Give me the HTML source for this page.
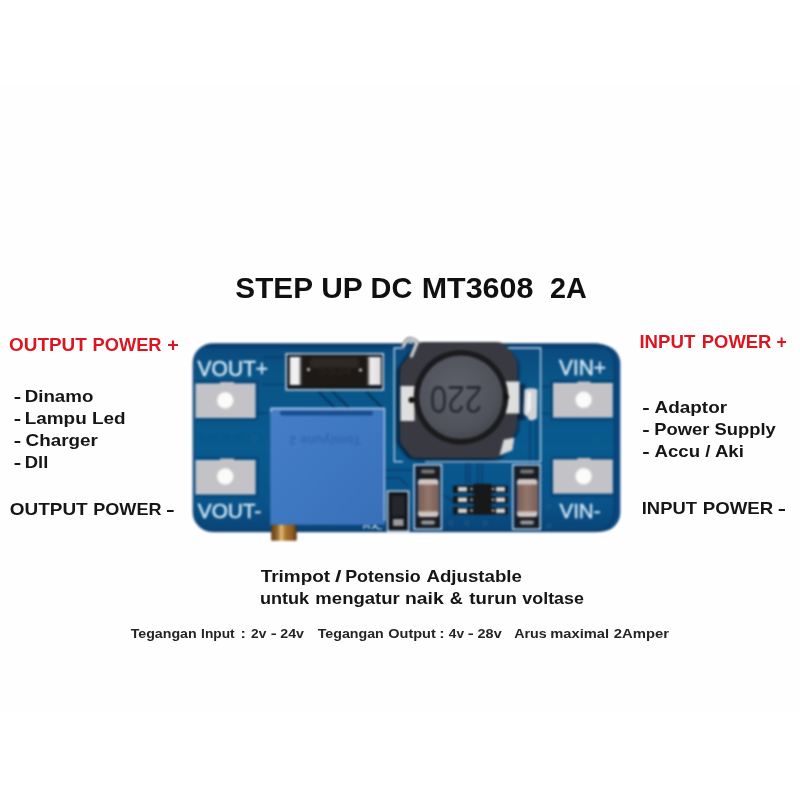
<!DOCTYPE html>
<html><head><meta charset="utf-8">
<style>
html,body{margin:0;padding:0;background:#fff;}
body{width:800px;height:800px;overflow:hidden;position:relative;font-family:"Liberation Sans",sans-serif;}
svg{position:absolute;left:0;top:0;display:block}
text{font-family:"Liberation Sans",sans-serif;}
</style></head><body>
<svg width="800" height="800" viewBox="0 0 800 800">
<defs>
<linearGradient id="pcb" x1="0" y1="0" x2="0" y2="1">
<stop offset="0" stop-color="#0a4a7e"/><stop offset="0.2" stop-color="#0a5688"/><stop offset="0.55" stop-color="#085a8f"/><stop offset="0.85" stop-color="#09538a"/><stop offset="1" stop-color="#094476"/>
</linearGradient>
<linearGradient id="trim" x1="0" y1="0" x2="1" y2="1">
<stop offset="0" stop-color="#467fc8"/><stop offset="0.5" stop-color="#3e78c0"/><stop offset="1" stop-color="#3970b9"/>
</linearGradient>
<radialGradient id="core" cx="0.45" cy="0.4" r="0.65">
<stop offset="0" stop-color="#5e606a"/><stop offset="0.75" stop-color="#50525b"/><stop offset="1" stop-color="#42444c"/>
</radialGradient>
<linearGradient id="brass" x1="0" y1="0" x2="1" y2="0">
<stop offset="0" stop-color="#5e3a18"/><stop offset="0.25" stop-color="#9a6a2c"/><stop offset="0.4" stop-color="#e2be7a"/><stop offset="0.55" stop-color="#a87630"/><stop offset="0.85" stop-color="#8a5a22"/><stop offset="1" stop-color="#4e2e12"/>
</linearGradient>
<linearGradient id="capg" x1="0" y1="0" x2="1" y2="0">
<stop offset="0" stop-color="#7b5e54"/><stop offset="0.5" stop-color="#94776b"/><stop offset="1" stop-color="#7b5e54"/>
</linearGradient>
<linearGradient id="dio" x1="0" y1="0" x2="1" y2="0"><stop offset="0" stop-color="#ededed"/><stop offset="0.1" stop-color="#f4f4f4"/><stop offset="0.17" stop-color="#3a3634"/><stop offset="0.8" stop-color="#3a3634"/><stop offset="0.87" stop-color="#f0f0f0"/><stop offset="1" stop-color="#dcdcdc"/></linearGradient>
<filter id="soft" color-interpolation-filters="sRGB" x="-5%" y="-5%" width="110%" height="110%"><feGaussianBlur stdDeviation="0.7"/></filter>
<filter id="soft2" color-interpolation-filters="sRGB" x="-5%" y="-5%" width="110%" height="110%"><feGaussianBlur stdDeviation="0.85"/></filter>
<filter id="soft3" color-interpolation-filters="sRGB" x="-20%" y="-20%" width="140%" height="140%"><feGaussianBlur stdDeviation="1.2"/></filter>
<clipPath id="bclip"><rect x="193.500" y="344" width="421" height="187.300" rx="20" ry="19"/></clipPath>
</defs>
<rect width="800" height="800" fill="#fff"/>
<rect x="0" y="86" width="800" height="627" fill="#fefefe"/>
<g id="labels" filter="url(#soft)" stroke-linejoin="round">
<text x="235.36" y="298.30" font-size="29.4" font-weight="bold" fill="#101010" textLength="77.62" lengthAdjust="spacingAndGlyphs">STEP</text>
<text x="321.22" y="298.30" font-size="29.4" font-weight="bold" fill="#101010" textLength="41.53" lengthAdjust="spacingAndGlyphs">UP</text>
<text x="370.53" y="298.30" font-size="29.4" font-weight="bold" fill="#101010" textLength="41.76" lengthAdjust="spacingAndGlyphs">DC</text>
<text x="421.68" y="298.30" font-size="29.4" font-weight="bold" fill="#101010" textLength="111.75" lengthAdjust="spacingAndGlyphs">MT3608</text>
<text x="550.02" y="298.30" font-size="29.4" font-weight="bold" fill="#101010" textLength="36.76" lengthAdjust="spacingAndGlyphs">2A</text>
<text x="9.09" y="351.30" font-size="17.5" font-weight="bold" fill="#dc1620" textLength="77.71" lengthAdjust="spacingAndGlyphs">OUTPUT</text>
<text x="92.52" y="351.30" font-size="17.5" font-weight="bold" fill="#dc1620" textLength="69.05" lengthAdjust="spacingAndGlyphs">POWER</text>
<text x="167.15" y="351.30" font-size="17.5" font-weight="bold" fill="#dc1620" textLength="11.56" lengthAdjust="spacingAndGlyphs">+</text>
<text x="13.74" y="402.00" font-size="16.2" font-weight="bold" fill="#161616" textLength="7.42" lengthAdjust="spacingAndGlyphs">-</text>
<text x="24.69" y="402.00" font-size="16.2" font-weight="bold" fill="#161616" textLength="68.64" lengthAdjust="spacingAndGlyphs">Dinamo</text>
<text x="13.74" y="424.20" font-size="16.2" font-weight="bold" fill="#161616" textLength="7.42" lengthAdjust="spacingAndGlyphs">-</text>
<text x="24.68" y="424.20" font-size="16.2" font-weight="bold" fill="#161616" textLength="100.95" lengthAdjust="spacingAndGlyphs">Lampu Led</text>
<text x="13.74" y="445.80" font-size="16.2" font-weight="bold" fill="#161616" textLength="7.42" lengthAdjust="spacingAndGlyphs">-</text>
<text x="25.57" y="445.80" font-size="16.2" font-weight="bold" fill="#161616" textLength="72.32" lengthAdjust="spacingAndGlyphs">Charger</text>
<text x="13.74" y="467.70" font-size="16.2" font-weight="bold" fill="#161616" textLength="7.42" lengthAdjust="spacingAndGlyphs">-</text>
<text x="24.71" y="467.70" font-size="16.2" font-weight="bold" fill="#161616" textLength="23.55" lengthAdjust="spacingAndGlyphs">Dll</text>
<text x="9.78" y="515.00" font-size="16.5" font-weight="bold" fill="#161616" textLength="77.95" lengthAdjust="spacingAndGlyphs">OUTPUT</text>
<text x="93.27" y="515.00" font-size="16.5" font-weight="bold" fill="#161616" textLength="68.24" lengthAdjust="spacingAndGlyphs">POWER</text>
<text x="166.01" y="515.00" font-size="16.5" font-weight="bold" fill="#161616" textLength="8.73" lengthAdjust="spacingAndGlyphs">-</text>
<text x="639.40" y="348.20" font-size="17.5" font-weight="bold" fill="#dc1620" textLength="55.86" lengthAdjust="spacingAndGlyphs">INPUT</text>
<text x="701.82" y="348.20" font-size="17.5" font-weight="bold" fill="#dc1620" textLength="69.56" lengthAdjust="spacingAndGlyphs">POWER</text>
<text x="776.45" y="348.20" font-size="17.5" font-weight="bold" fill="#dc1620" textLength="10.28" lengthAdjust="spacingAndGlyphs">+</text>
<text x="642.34" y="413.00" font-size="16.2" font-weight="bold" fill="#161616" textLength="7.42" lengthAdjust="spacingAndGlyphs">-</text>
<text x="654.56" y="413.00" font-size="16.2" font-weight="bold" fill="#161616" textLength="72.50" lengthAdjust="spacingAndGlyphs">Adaptor</text>
<text x="642.34" y="435.00" font-size="16.2" font-weight="bold" fill="#161616" textLength="7.42" lengthAdjust="spacingAndGlyphs">-</text>
<text x="654.22" y="435.00" font-size="16.2" font-weight="bold" fill="#161616" textLength="121.53" lengthAdjust="spacingAndGlyphs">Power Supply</text>
<text x="642.34" y="457.00" font-size="16.2" font-weight="bold" fill="#161616" textLength="7.42" lengthAdjust="spacingAndGlyphs">-</text>
<text x="654.57" y="457.00" font-size="16.2" font-weight="bold" fill="#161616" textLength="89.33" lengthAdjust="spacingAndGlyphs">Accu / Aki</text>
<text x="641.75" y="514.00" font-size="16.6" font-weight="bold" fill="#161616" textLength="55.13" lengthAdjust="spacingAndGlyphs">INPUT</text>
<text x="702.73" y="514.00" font-size="16.6" font-weight="bold" fill="#161616" textLength="70.39" lengthAdjust="spacingAndGlyphs">POWER</text>
<text x="777.66" y="514.00" font-size="16.6" font-weight="bold" fill="#161616" textLength="8.27" lengthAdjust="spacingAndGlyphs">-</text>
<text x="260.66" y="581.70" font-size="16.7" font-weight="bold" fill="#161616" textLength="69.48" lengthAdjust="spacingAndGlyphs">Trimpot</text>
<text x="335.02" y="581.70" font-size="16.7" font-weight="bold" fill="#161616" textLength="6.55" lengthAdjust="spacingAndGlyphs">/</text>
<text x="345.19" y="581.70" font-size="16.7" font-weight="bold" fill="#161616" textLength="75.46" lengthAdjust="spacingAndGlyphs">Potensio</text>
<text x="426.48" y="581.70" font-size="16.7" font-weight="bold" fill="#161616" textLength="95.46" lengthAdjust="spacingAndGlyphs">Adjustable</text>
<text x="259.91" y="603.70" font-size="16.7" font-weight="bold" fill="#161616" textLength="49.29" lengthAdjust="spacingAndGlyphs">untuk</text>
<text x="315.35" y="603.70" font-size="16.7" font-weight="bold" fill="#161616" textLength="84.43" lengthAdjust="spacingAndGlyphs">mengatur</text>
<text x="404.99" y="603.70" font-size="16.7" font-weight="bold" fill="#161616" textLength="38.78" lengthAdjust="spacingAndGlyphs">naik</text>
<text x="449.68" y="603.70" font-size="16.7" font-weight="bold" fill="#161616" textLength="13.07" lengthAdjust="spacingAndGlyphs">&amp;</text>
<text x="469.32" y="603.70" font-size="16.7" font-weight="bold" fill="#161616" textLength="47.57" lengthAdjust="spacingAndGlyphs">turun</text>
<text x="522.37" y="603.70" font-size="16.7" font-weight="bold" fill="#161616" textLength="61.52" lengthAdjust="spacingAndGlyphs">voltase</text>
<text x="130.66" y="637.80" font-size="12.9" font-weight="bold" fill="#242424" textLength="66.04" lengthAdjust="spacingAndGlyphs">Tegangan</text>
<text x="201.07" y="637.80" font-size="12.9" font-weight="bold" fill="#242424" textLength="33.56" lengthAdjust="spacingAndGlyphs">Input</text>
<text x="240.63" y="637.80" font-size="12.9" font-weight="bold" fill="#242424" textLength="5.39" lengthAdjust="spacingAndGlyphs">:</text>
<text x="251.10" y="637.80" font-size="12.9" font-weight="bold" fill="#242424" textLength="15.28" lengthAdjust="spacingAndGlyphs">2v</text>
<text x="270.81" y="637.80" font-size="12.9" font-weight="bold" fill="#242424" textLength="5.94" lengthAdjust="spacingAndGlyphs">-</text>
<text x="280.29" y="637.80" font-size="12.9" font-weight="bold" fill="#242424" textLength="23.69" lengthAdjust="spacingAndGlyphs">24v</text>
<text x="317.66" y="637.80" font-size="12.9" font-weight="bold" fill="#242424" textLength="66.14" lengthAdjust="spacingAndGlyphs">Tegangan</text>
<text x="388.24" y="637.80" font-size="12.9" font-weight="bold" fill="#242424" textLength="47.57" lengthAdjust="spacingAndGlyphs">Output</text>
<text x="439.33" y="637.80" font-size="12.9" font-weight="bold" fill="#242424" textLength="5.39" lengthAdjust="spacingAndGlyphs">:</text>
<text x="448.87" y="637.80" font-size="12.9" font-weight="bold" fill="#242424" textLength="15.21" lengthAdjust="spacingAndGlyphs">4v</text>
<text x="467.81" y="637.80" font-size="12.9" font-weight="bold" fill="#242424" textLength="5.94" lengthAdjust="spacingAndGlyphs">-</text>
<text x="477.58" y="637.80" font-size="12.9" font-weight="bold" fill="#242424" textLength="24.10" lengthAdjust="spacingAndGlyphs">28v</text>
<text x="514.18" y="637.80" font-size="12.9" font-weight="bold" fill="#242424" textLength="32.56" lengthAdjust="spacingAndGlyphs">Arus</text>
<text x="550.30" y="637.80" font-size="12.9" font-weight="bold" fill="#242424" textLength="58.73" lengthAdjust="spacingAndGlyphs">maximal</text>
<text x="613.87" y="637.80" font-size="12.9" font-weight="bold" fill="#242424" textLength="55.15" lengthAdjust="spacingAndGlyphs">2Amper</text>
</g>
<!-- BOARD -->
<g id="board" filter="url(#soft2)">
<!-- board edge wall -->
<rect x="194" y="344.500" width="426.300" height="187.300" rx="20" ry="19" fill="#0a4680"/>
<!-- board face -->
<rect x="193.500" y="344" width="421" height="187.300" rx="20" ry="19" fill="url(#pcb)" stroke="#0a3c6e" stroke-width="2" stroke-opacity="0.75"/>
<path d="M205 346.500 H604" stroke="#0a3a6c" stroke-width="3.5" opacity="0.7" fill="none"/>
<path d="M196 437 H250" stroke="#0b4c82" stroke-width="3" stroke-dasharray="8 5" opacity="0.3" fill="none"/>
<g clip-path="url(#bclip)">
<!-- traces (darker lines) -->
<g stroke="#0a3b6c" stroke-width="1.6" fill="none" opacity="0.85">
<path d="M318.500 391.500 L336 409 M332.500 391.500 L351 410 M366 391.500 L384 409.500" stroke-width="2.4" stroke="#09305c"/>
<path d="M262 357.500 H286 M262 384.500 H286 M255 413 H268"/>
<path d="M196 381.5 H257.5 V419.5 H196 M196 458 H257.5 V496 H196"/>
<path d="M551.5 381 H615 M551.5 381 V419.5 H615 M551.5 458 V496 H615 M551.5 458 H615"/>
<path d="M541 386.5 H552 M541 413.5 H552"/>
<path d="M466 461 V484 M469.5 461 V484 M478 461 V484 M482 461 V484 M530 420 V465 M536 420 V465"/>
<path d="M441.5 495 Q448 496 453 503"/>
<path d="M385 470 H412 M385 478 H400 L408 486"/>
</g>
<!-- vias -->
<g fill="#0a3560" stroke="#3577ad" stroke-width="0.9" opacity="0.8">
<circle cx="254" cy="438.5" r="1.8"/><circle cx="597.5" cy="437.5" r="1.8"/>
<circle cx="451" cy="523" r="2"/><circle cx="467" cy="523" r="2"/><circle cx="485" cy="523" r="2"/>
<circle cx="549" cy="507" r="1.8"/><circle cx="549" cy="526" r="1.8"/>
</g>
</g>
<!-- pads -->
<g fill="#c3c3c7">
<path d="M195.500 383.5 H220 V382 H234 V383.500 H255.500 V418 H195.500 Z"/>
<path d="M195.500 460 H220 V458.500 H234 V460 H255.500 V494.500 H195.500 Z"/>
<path d="M553 383 H577.500 V381.500 H590.500 V383 H612.800 V417.500 H553 Z"/>
<path d="M553 459.500 H577.500 V458 H590.500 V459.500 H612.800 V493.500 H553 Z"/>
</g>
<g fill="#fbfbf9" stroke="#d9d9d9" stroke-width="1">
<circle cx="225.2" cy="400.3" r="8.3"/><circle cx="225.2" cy="476.5" r="8.3"/>
<circle cx="583.6" cy="399.8" r="8.3"/><circle cx="583.6" cy="476.3" r="8.3"/>
</g>
<!-- silk labels -->
<g fill="#d6e9f6" stroke="#d6e9f6" stroke-width="0.45" font-size="21.6">
<text x="197.6" y="375.6" textLength="70.500" lengthAdjust="spacingAndGlyphs">VOUT+</text>
<text font-size="21" x="197.8" y="518" textLength="63.500" lengthAdjust="spacingAndGlyphs">VOUT-</text>
<text x="559" y="375" textLength="47" lengthAdjust="spacingAndGlyphs">VIN+</text>
<text font-size="21" x="559.5" y="518" textLength="41" lengthAdjust="spacingAndGlyphs">VIN-</text>
</g>
<!-- diode -->
<rect x="286.2" y="353.8" width="97" height="36" fill="#141a22" stroke="#cfe0f0" stroke-width="1.5"/>
<rect x="289.800" y="357" width="91" height="28" fill="url(#dio)"/>
<rect x="300.500" y="355.500" width="68" height="31.500" rx="3" fill="#1d1916" filter="url(#soft3)"/><rect x="310" y="358" width="49" height="10" rx="3" fill="#2e2925" filter="url(#soft3)"/>
<circle cx="308.5" cy="369.5" r="1.5" fill="#ddd"/><circle cx="360.500" cy="370" r="1.5" fill="#ddd"/>
<text x="335" y="375" font-size="13" fill="#2a2420" text-anchor="middle" font-weight="bold">SS34</text>
<!-- trimpot -->
<rect x="270.300" y="407.800" width="114.500" height="117" fill="url(#trim)"/>
<path d="M271 412 V408.500 H384.500 V521" fill="none" stroke="#bcd2ee" stroke-width="1.3"/>
<rect x="280" y="411" width="93" height="4.500" rx="2" fill="#184a8c" opacity="0.95"/>
<text x="325" y="444" font-size="13" fill="#3468b0" text-anchor="middle" transform="rotate(180 325 440)" font-weight="bold" textLength="72" lengthAdjust="spacingAndGlyphs">Tomiyune 2</text>
<path d="M364 529 V526 H369 V529 M372 529 L375 525.500 L378 529 H382" fill="none" stroke="#dce8f4" stroke-width="1.2"/>
<rect x="271.200" y="524.700" width="25.500" height="16" rx="1.5" fill="url(#brass)"/>
<!-- inductor -->
<path d="M403 461.700 H394.300 V348 H404 M500 348 H540.600 V461.700 H425" fill="none" stroke="#c4d8ec" stroke-width="1.3"/>
<rect x="517" y="384" width="8" height="36" fill="#0a2748" filter="url(#soft3)"/><path d="M524.500 389.500 Q531 387 537.500 389.500 L537 418 Q533 421.500 529 420 L527 416 Q524 416 523.500 412 Z" fill="#d0d3d8"/><path d="M527.500 392 L531 392 L530.500 410 L526.500 415 Z" fill="#f4f4f4"/>
<path d="M423 342 L497 342 Q502 342 505 345 L515 357 Q517 360 517 364 L517 425 Q517 430 514 434 L502 453 Q499 458 493 458 L417 458 Q412 458 409 454 L402 445 Q400 442 400 438 L400 372 Q400 368 402 365 L416 346 Q419 342 423 342 Z" fill="#06172c" opacity="0.75" filter="url(#soft3)" transform="translate(-3.5 1.5)"/>
<path d="M423 342 L497 342 Q502 342 505 345 L515 357 Q517 360 517 364 L517 425 Q517 430 514 434 L502 453 Q499 458 493 458 L417 458 Q412 458 409 454 L402 445 Q400 442 400 438 L400 372 Q400 368 402 365 L416 346 Q419 342 423 342 Z" fill="#06172c" opacity="0.55" filter="url(#soft3)" transform="translate(2.5 2.5)"/>
<path d="M423 342 L497 342 Q502 342 505 345 L515 357 Q517 360 517 364 L517 425 Q517 430 514 434 L502 453 Q499 458 493 458 L417 458 Q412 458 409 454 L402 445 Q400 442 400 438 L400 372 Q400 368 402 365 L416 346 Q419 342 423 342 Z" fill="#393a41"/>
<rect x="400.500" y="386" width="14" height="35" fill="#dedede"/>
<rect x="505.500" y="381.500" width="14" height="32" fill="#dedede"/>
<path d="M500 455 L504 440 L514 438 L512 450 Z" fill="#d8d8d8" stroke="#bdbdbd" stroke-width="1"/>
<path d="M403.500 346 Q409 334 417 343 L411.500 356" fill="none" stroke="#5a5f66" stroke-width="4.5" stroke-linecap="round"/><path d="M403.500 346 Q409 334 417 343 L411.500 356" fill="none" stroke="#d4d4d4" stroke-width="2.800" stroke-linecap="round"/>
<circle cx="461" cy="397.300" r="47.300" fill="#1b1b1d"/>
<circle cx="461" cy="397.300" r="41.800" fill="url(#core)"/>
<circle cx="411.500" cy="400" r="3" fill="#111"/><circle cx="506" cy="397" r="3" fill="#111"/>
<text x="456" y="410.300" font-size="38" fill="#2a2d35" text-anchor="middle" transform="rotate(180 456 398)" textLength="52.500" lengthAdjust="spacingAndGlyphs" font-family="Liberation Mono, monospace">220</text>
<!-- caps -->
<rect x="414.200" y="464.800" width="27.300" height="64.500" fill="#0c2a4c" stroke="#cfe0f0" stroke-width="1.4"/>
<rect x="416.500" y="467" width="23" height="12" rx="2" fill="#1a1c20"/><rect x="421" y="469.500" width="14" height="4" rx="2" fill="#777"/>
<rect x="416.500" y="516" width="23" height="11.500" rx="2" fill="#1a1c20"/><rect x="421" y="520.500" width="14" height="4" rx="2" fill="#999"/>
<rect x="418" y="479" width="20.500" height="38" rx="3" fill="#cfc6c1"/>
<rect x="418" y="484.500" width="20.500" height="27" fill="url(#capg)"/>
<rect x="512.800" y="464.800" width="27.500" height="64.500" fill="#0c2a4c" stroke="#cfe0f0" stroke-width="1.4"/>
<rect x="515.500" y="467" width="23" height="12" rx="2" fill="#1a1c20"/><rect x="520" y="469.500" width="14" height="4" rx="2" fill="#777"/>
<rect x="515.500" y="516" width="23" height="11.500" rx="2" fill="#1a1c20"/><rect x="520" y="520.500" width="14" height="4" rx="2" fill="#999"/>
<rect x="517" y="479" width="20.500" height="38" rx="3" fill="#cfc6c1"/>
<rect x="517" y="484.500" width="20.500" height="27" fill="url(#capg)"/>
<!-- IC -->
<g fill="#15181c">
<rect x="453" y="485.500" width="55" height="7.500"/><rect x="453" y="496" width="55" height="7.500"/><rect x="453" y="507" width="55" height="7.500"/>
</g>
<g fill="#d4d4d4">
<rect x="458" y="487" width="9" height="4.500"/><rect x="458" y="497.500" width="9" height="4.500"/><rect x="458" y="508.500" width="9" height="4.500"/>
<rect x="496" y="487" width="9" height="4.500"/><rect x="496" y="497.500" width="9" height="4.500"/><rect x="496" y="508.500" width="9" height="4.500"/>
<circle cx="471.500" cy="489" r="1.2"/><circle cx="471.500" cy="499.700" r="1.2"/><circle cx="471.500" cy="510.500" r="1.2"/>
<circle cx="493" cy="489" r="1.2"/><circle cx="493" cy="499.700" r="1.2"/><circle cx="493" cy="510.500" r="1.2"/>
</g>
<rect x="473.500" y="483.700" width="18" height="31" rx="1" fill="#17181a"/>
<!-- small comp -->
<rect x="387.600" y="491.200" width="21" height="40" fill="#12161c" stroke="#cfe0f0" stroke-width="1.4"/>
<rect x="392" y="496" width="12.500" height="20" fill="#24272b"/>
<rect x="393" y="519" width="10.500" height="7" fill="#9a9a9a"/>
</g>
</svg>
</body></html>
